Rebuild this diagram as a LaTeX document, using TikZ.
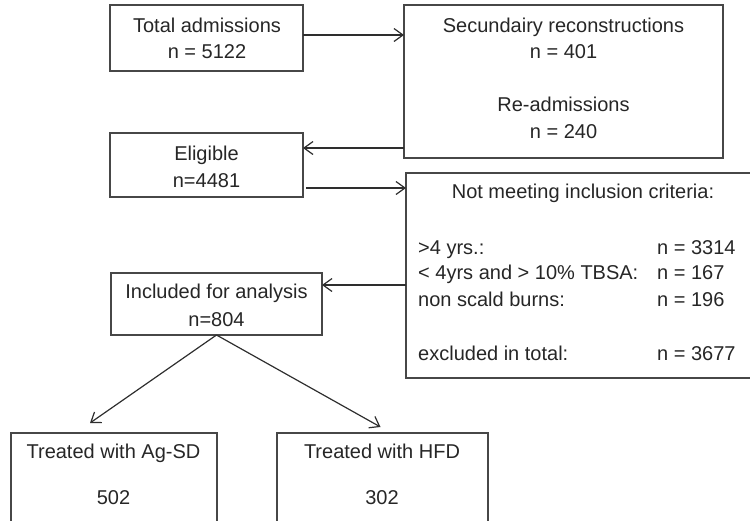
\documentclass[tikz,border=0pt]{standalone}
\usepackage{fontspec}
\setmainfont{Liberation Sans}
\usetikzlibrary{arrows.meta}
\begin{document}
\begin{tikzpicture}[x=1pt,y=-1pt,
  box/.style={draw=black!72, line width=1.1pt, rectangle, inner sep=0pt, outer sep=0pt, anchor=north west},
  txt/.style={text=black!85, font=\fontsize{20}{24}\selectfont, inner sep=0pt, anchor=base},
  ltxt/.style={txt, anchor=base west},
  conn/.style={draw=black!82, line width=1.2pt, -{Straight Barb[length=9pt,width=13pt,line width=1.2pt]}},
  ]
\useasboundingbox (0,0) rectangle (750,520);
\clip (0,0) rectangle (750,520);
% boxes
\node[box, minimum width=193pt, minimum height=66pt] (tot) at (110,5) {};
\node[box, minimum width=319pt, minimum height=153pt] (sec) at (404,5) {};
\node[box, minimum width=193pt, minimum height=64pt] (eli) at (110,133) {};
\node[box, minimum width=356pt, minimum height=205pt] (not) at (406,173) {};
\node[box, minimum width=211pt, minimum height=62pt] (inc) at (111,273) {};
\node[box, minimum width=206pt, minimum height=110pt] (ag) at (11,433) {};
\node[box, minimum width=211pt, minimum height=110pt] (hfd) at (277,433) {};
% texts
\node[txt] (t1) at (207,32) {Total admissions};
\node[txt] (t2) at (207,58) {n = 5122};
\node[txt] (s1) at (563.5,32) {Secundairy reconstructions};
\node[txt] (s2) at (563.5,58) {n = 401};
\node[txt] (s3) at (563.5,111) {Re-admissions};
\node[txt] (s4) at (563.5,138) {n = 240};
\node[txt] (e1) at (206.5,160) {Eligible};
\node[txt] (e2) at (206.5,187) {n=4481};
\node[txt] (n0) at (583,198) {Not meeting inclusion criteria:};
\node[ltxt] (n1) at (418,254) {>4 yrs.:};
\node[ltxt] (n2) at (418,279) {< 4yrs and > 10\% TBSA:};
\node[ltxt] (n3) at (418,306) {non scald burns:};
\node[ltxt] (n4) at (418,360) {excluded in total:};
\node[ltxt] (m1) at (657,254) {n = 3314};
\node[ltxt] (m2) at (657,279) {n = 167};
\node[ltxt] (m3) at (657,306) {n = 196};
\node[ltxt] (m4) at (657,360) {n = 3677};
\node[txt] (i1) at (216.5,298) {Included for analysis};
\node[txt] (i2) at (216.5,326) {n=804};
\node[txt] (a1) at (113.5,458) {Treated with Ag-SD};
\node[txt] (a2) at (113.5,504) {502};
\node[txt] (h1) at (382,458) {Treated with HFD};
\node[txt] (h2) at (382,504) {302};
% connectors
\draw[conn] ([yshift=3pt]tot.east) -- ([yshift=3pt]tot.east -| sec.west);
\draw[conn] ([yshift=10pt]sec.south west) -- ([yshift=10pt]sec.south west -| eli.east);
\draw[conn] ([xshift=3pt,yshift=9pt]eli.south east) -- ([yshift=9pt]eli.south east -| not.west);
\draw[conn] ([yshift=-12pt]inc.north east -| not.west) -- ([yshift=-12pt]inc.north east);
\draw[conn] (inc.south) -- ([xshift=-24pt,yshift=10pt]ag.north);
\draw[conn] (inc.south) -- ([xshift=-2pt,yshift=6pt]hfd.north);
\end{tikzpicture}
\end{document}
